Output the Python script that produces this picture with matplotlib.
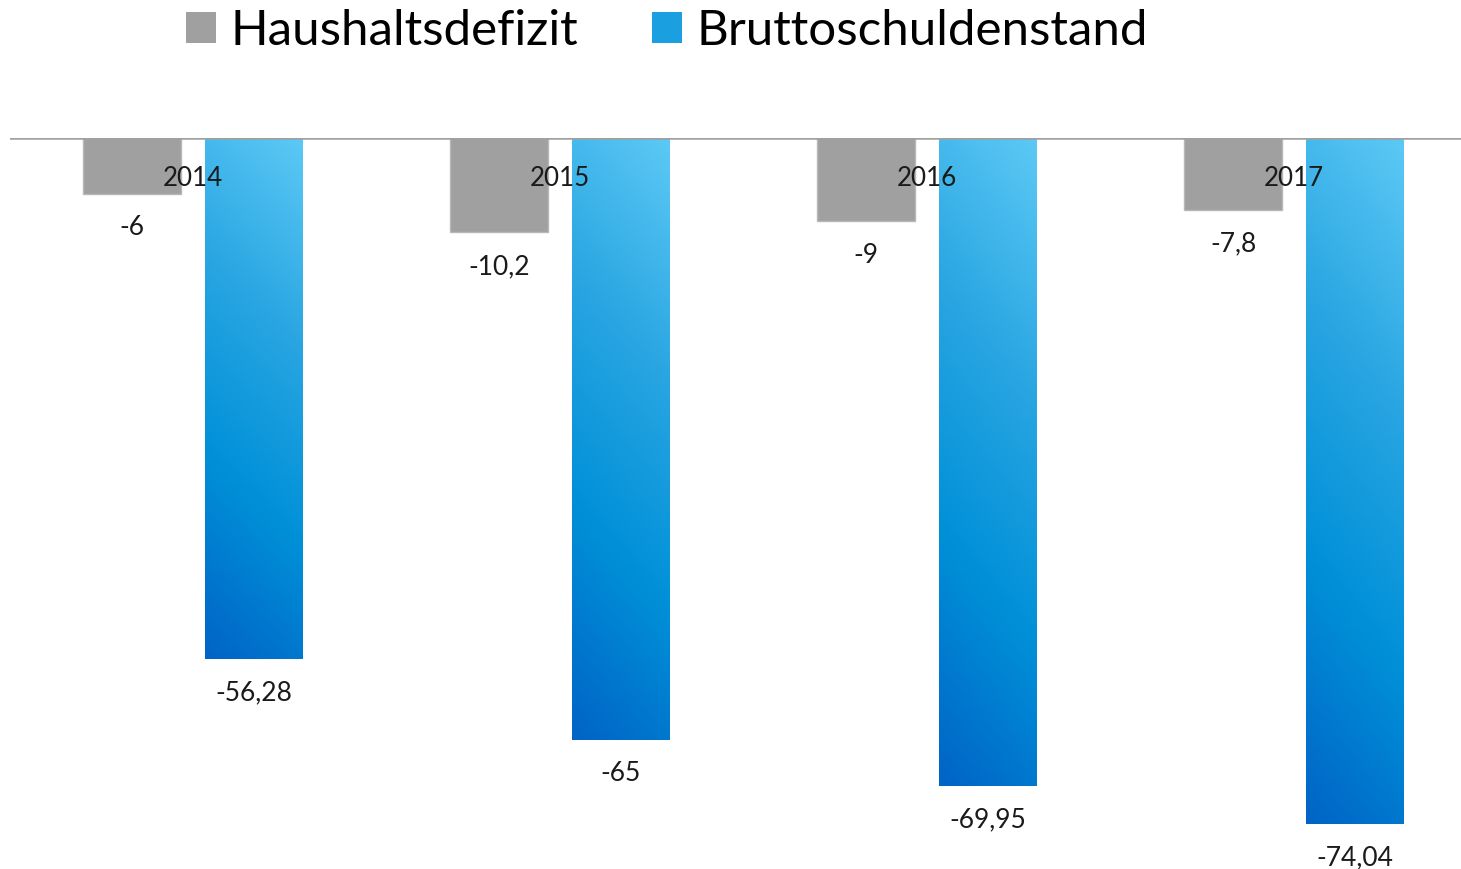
import numpy as np
import matplotlib
matplotlib.use('Agg')
import matplotlib.pyplot as plt
from matplotlib.colors import LinearSegmentedColormap
from matplotlib.patches import Patch

plt.rcParams['font.family'] = ['Lato', 'DejaVu Sans']

years = ['2014', '2015', '2016', '2017']
haushaltsdefizit = [-6, -10.2, -9, -7.8]
bruttoschulden = [-56.28, -65, -69.95, -74.04]

grey = '#A0A0A0'
blue_cmap = LinearSegmentedColormap.from_list('blau', ['#5CC9F5', '#2AA6E2', '#0090D8', '#0064C6'])

W, H = 1461, 869
fig = plt.figure(figsize=(W / 100, H / 100), dpi=100)
# zero line at y=138 px, categories spaced 367 px
px_unit_x = 367
left_px = 193 - 0.5 * px_unit_x
ax = fig.add_axes([left_px / W, (H - 138 - 80 * 9.26) / H, 4 * px_unit_x / W, 80 * 9.26 / H])

x = np.arange(len(years))
bw = 0.267
off = 0.166

ax.bar(x - off, haushaltsdefizit, width=bw, color=grey, edgecolor='#B8B8B8', linewidth=1, zorder=2)

# blue bars with diagonal gradient
for xi, v in zip(x, bruttoschulden):
    x0, x1 = xi + off - bw / 2, xi + off + bw / 2
    yy, xx = np.mgrid[0:1:200j, 0:1:40j]
    t = 0.85 * yy + 0.15 * (1 - xx)
    ax.imshow(t, cmap=blue_cmap, vmin=0, vmax=1, extent=(x0, x1, v, 0),
              origin='upper', aspect='auto', interpolation='bilinear', zorder=2)

ax.axhline(0, color='#A0A0A0', linewidth=1.8, zorder=3)

def fmt(v):
    return '{:g}'.format(v).replace('.', ',')

for xi, v in zip(x, haushaltsdefizit):
    ax.annotate(fmt(v), (xi - off, v), xytext=(0, -34), textcoords='offset pixels',
                ha='center', va='center', fontsize=19, color='#1a1a1a', annotation_clip=False)
for xi, v in zip(x, bruttoschulden):
    ax.annotate(fmt(v), (xi + off, v), xytext=(0, -34), textcoords='offset pixels',
                ha='center', va='center', fontsize=19, color='#1a1a1a', annotation_clip=False)

for xi, yr in zip(x, years):
    ax.text(xi, -4.4, yr, ha='center', va='center', fontsize=18.7, color='#1a1a1a', zorder=4)

ax.set_xlim(-0.5, 3.5)
ax.set_ylim(-80, 0)
ax.axis('off')

handles = [Patch(facecolor=grey, edgecolor='none'), Patch(facecolor='#1AA0E0', edgecolor='none')]
fig.legend(handles, ['Haushaltsdefizit', 'Bruttoschuldenstand'], loc='center',
           bbox_to_anchor=(667 / W, 1 - 31 / H), ncol=2, frameon=False, fontsize=35.5,
           handlelength=0.6, handleheight=0.6, handletextpad=0.3, columnspacing=1.5,
           borderaxespad=0)

fig.savefig('out.png', dpi=100)
